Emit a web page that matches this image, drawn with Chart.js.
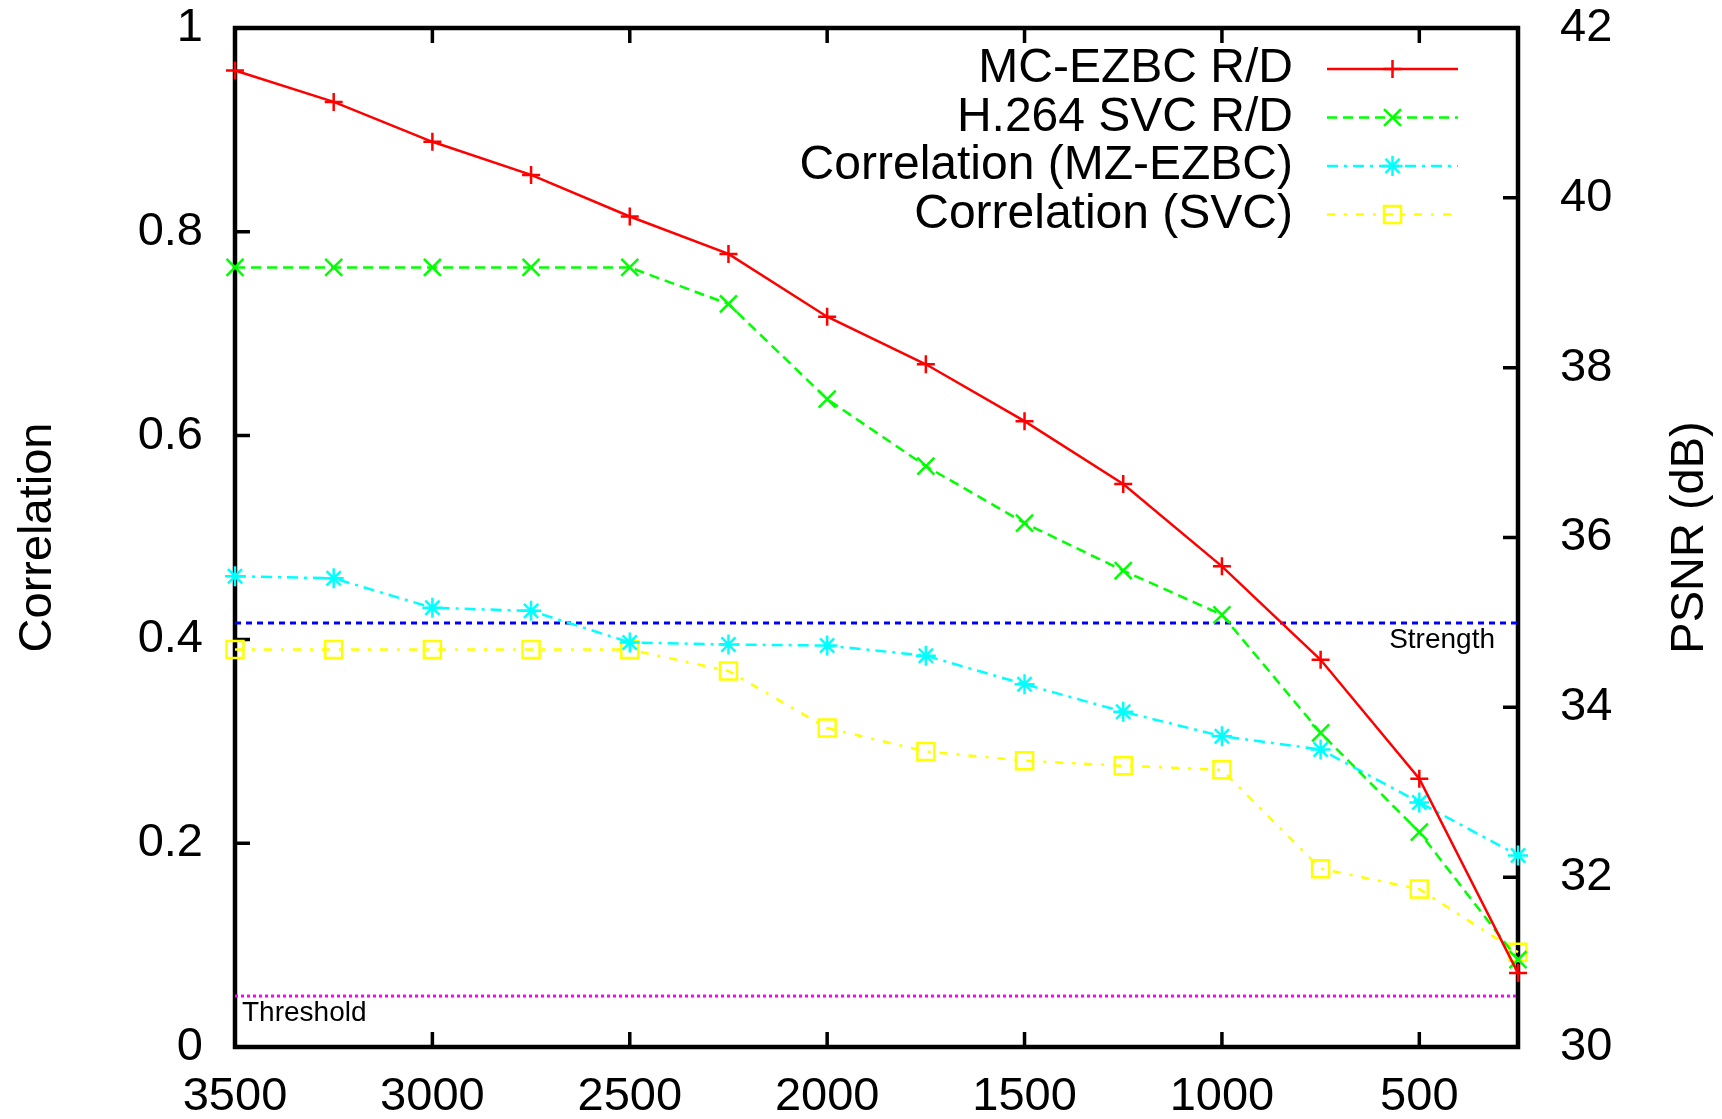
<!DOCTYPE html>
<html><head><meta charset="utf-8">
<script src="https://cdn.jsdelivr.net/npm/chart.js@4.4.1/dist/chart.umd.min.js"></script>
<style>html,body{margin:0;padding:0;background:#fff;} #wrap{width:1722px;height:1119px;position:relative;}</style>
</head><body><div id="wrap"><canvas id="c"></canvas></div>
<script>
const rates = [3500, 3250, 3000, 2750, 2500, 2250, 2000, 1750, 1500, 1250, 1000, 750, 500, 250];
const mcEzbcPsnr = [41.50, 41.13, 40.66, 40.27, 39.78, 39.34, 38.60, 38.04, 37.37, 36.63, 35.66, 34.56, 33.16, 30.87];
const svcPsnr = [39.18, 39.18, 39.18, 39.18, 39.18, 38.75, 37.63, 36.84, 36.17, 35.61, 35.09, 33.70, 32.53, 31.03];
const corrMcEzbc = [0.462, 0.460, 0.431, 0.428, 0.397, 0.395, 0.394, 0.384, 0.356, 0.329, 0.305, 0.292, 0.240, 0.188];
const corrSvc = [0.390, 0.390, 0.390, 0.390, 0.390, 0.369, 0.313, 0.290, 0.281, 0.276, 0.272, 0.175, 0.155, 0.093];
const strengthLevel = 0.416;
const thresholdLevel = 0.05;
const xTickValues = [3500, 3000, 2500, 2000, 1500, 1000, 500];
const seriesLabels = ['MC-EZBC R/D', 'H.264 SVC R/D', 'Correlation (MZ-EZBC)', 'Correlation (SVC)'];
const leftTitle = 'Correlation';
const rightTitle = 'PSNR (dB)';
const strengthLabel = 'Strength';
const thresholdLabel = 'Threshold';

const FONT = '"Liberation Sans", Arial, Helvetica, sans-serif';
const pts = ys => rates.map((r, i) => ({x: r, y: ys[i]}));

function series(label, ys, axis, color, style, radius, dash) {
  return {
    label, data: pts(ys), yAxisID: axis,
    borderColor: color, borderWidth: 2.5, borderDash: dash,
    pointStyle: style, pointRadius: radius, pointHoverRadius: radius,
    pointBorderColor: color, pointBorderWidth: 2.5, pointBackgroundColor: 'rgba(0,0,0,0)',
    fill: false, tension: 0, clip: false
  };
}
function refLine(label, level, color, dash) {
  return {
    label, data: [{x: rates[0], y: level}, {x: rates[rates.length - 1], y: level}], yAxisID: 'y',
    borderColor: color, borderWidth: 3, borderDash: dash, pointRadius: 0, fill: false, isRef: true
  };
}

const datasets = [
  series(seriesLabels[0], mcEzbcPsnr, 'y2', '#ff0000', 'cross', 9, []),
  series(seriesLabels[1], svcPsnr, 'y2', '#00ff00', 'crossRot', 12, [10, 6]),
  series(seriesLabels[2], corrMcEzbc, 'y', '#00ffff', 'star', 10, [11, 6, 3, 6]),
  series(seriesLabels[3], corrSvc, 'y', '#ffff00', 'rect', 12, [8, 9, 3, 9]),
  refLine(strengthLabel, strengthLevel, '#0000ff', [6, 5]),
  refLine(thresholdLabel, thresholdLevel, '#ff00ff', [3, 3])
];

const framePlugin = {
  id: 'gnuFrame',
  beforeDatasetsDraw(chart) {
    const {ctx, chartArea: a, scales} = chart;
    ctx.save();
    ctx.strokeStyle = '#000';
    ctx.setLineDash([]);
    ctx.lineWidth = 4.5;
    ctx.strokeRect(a.left, a.top, a.right - a.left, a.bottom - a.top);
    ctx.lineWidth = 3.5;
    ctx.beginPath();
    const T = 15;
    scales.x.ticks.forEach(t => {
      const px = scales.x.getPixelForValue(t.value);
      ctx.moveTo(px, a.bottom); ctx.lineTo(px, a.bottom - T);
      ctx.moveTo(px, a.top); ctx.lineTo(px, a.top + T);
    });
    scales.y.ticks.forEach(t => {
      const py = scales.y.getPixelForValue(t.value);
      ctx.moveTo(a.left, py); ctx.lineTo(a.left + T, py);
    });
    scales.y2.ticks.forEach(t => {
      const py = scales.y2.getPixelForValue(t.value);
      ctx.moveTo(a.right, py); ctx.lineTo(a.right - T, py);
    });
    ctx.stroke();
    ctx.restore();
  },
  afterDatasetsDraw(chart) {
    const {ctx, chartArea: a, scales} = chart;
    ctx.save();
    // legend
    ctx.font = '48px ' + FONT;
    ctx.textAlign = 'right';
    ctx.textBaseline = 'middle';
    const textRight = a.right - 225, sL = a.right - 191, sR = a.right - 60;
    chart.data.datasets.filter(d => !d.isRef).forEach((d, i) => {
      const y = a.top + 41 + i * 48.5;
      ctx.fillStyle = '#000';
      ctx.fillText(d.label, textRight, y);
      ctx.strokeStyle = d.borderColor;
      ctx.lineWidth = d.borderWidth;
      ctx.setLineDash(d.borderDash || []);
      ctx.beginPath(); ctx.moveTo(sL, y); ctx.lineTo(sR, y); ctx.stroke();
      ctx.setLineDash([]);
      ctx.lineWidth = d.pointBorderWidth;
      ctx.fillStyle = d.pointBackgroundColor;
      Chart.helpers.drawPoint(ctx, {pointStyle: d.pointStyle, radius: d.pointRadius, rotation: 0, borderWidth: d.pointBorderWidth}, (sL + sR) / 2, y);
    });
    // reference labels
    ctx.fillStyle = '#000';
    ctx.font = '28px ' + FONT;
    ctx.textBaseline = 'alphabetic';
    ctx.textAlign = 'right';
    ctx.fillText(strengthLabel, a.right - 23, scales.y.getPixelForValue(strengthLevel) + 25);
    ctx.textAlign = 'left';
    ctx.fillText(thresholdLabel, a.left + 7, scales.y.getPixelForValue(thresholdLevel) + 25);
    // right axis title (reads bottom-to-top)
    ctx.font = '47px ' + FONT;
    ctx.textAlign = 'center';
    ctx.textBaseline = 'middle';
    ctx.translate(scales.y2.right - 32, (a.top + a.bottom) / 2);
    ctx.rotate(-Math.PI / 2);
    ctx.fillText(rightTitle, 0, 0);
    ctx.restore();
  }
};

const tickFont = {family: FONT, size: 47, lineHeight: 1};
const noPad = s => { s.paddingTop = 0; s.paddingBottom = 0; s.paddingLeft = 0; s.paddingRight = 0; };

new Chart(document.getElementById('c'), {
  type: 'line',
  data: {datasets},
  options: {
    responsive: true, maintainAspectRatio: false, animation: false,
    devicePixelRatio: 1,
    layout: {padding: {top: 28, left: 0, right: 0, bottom: 0}},
    plugins: {legend: {display: false}, tooltip: {enabled: false}},
    scales: {
      x: {
        type: 'linear', reverse: true, min: rates[rates.length - 1], max: rates[0],
        afterBuildTicks: s => { s.ticks = xTickValues.map(v => ({value: v})); },
        afterFit: s => { s.height = 72; noPad(s); },
        grid: {display: false, drawTicks: false}, border: {display: false},
        ticks: {font: tickFont, color: '#000', padding: 27, maxRotation: 0, autoSkip: false, callback: v => String(v)}
      },
      y: {
        position: 'left', min: 0, max: 1,
        afterFit: s => { s.width = 235; noPad(s); },
        grid: {display: false, drawTicks: false}, border: {display: false},
        ticks: {stepSize: 0.2, font: tickFont, color: '#000', padding: 32, callback: v => String(Math.round(v * 10) / 10)},
        title: {display: true, text: leftTitle, color: '#000', font: {family: FONT, size: 47, lineHeight: 1}, padding: {top: 15, bottom: 0}}
      },
      y2: {
        position: 'right', min: 30, max: 42,
        afterFit: s => { s.width = 204; noPad(s); },
        grid: {display: false, drawTicks: false}, border: {display: false},
        ticks: {stepSize: 2, font: tickFont, color: '#000', padding: 42, callback: v => String(Math.round(v))}
      }
    }
  },
  plugins: [framePlugin]
});
</script>
</body></html>
